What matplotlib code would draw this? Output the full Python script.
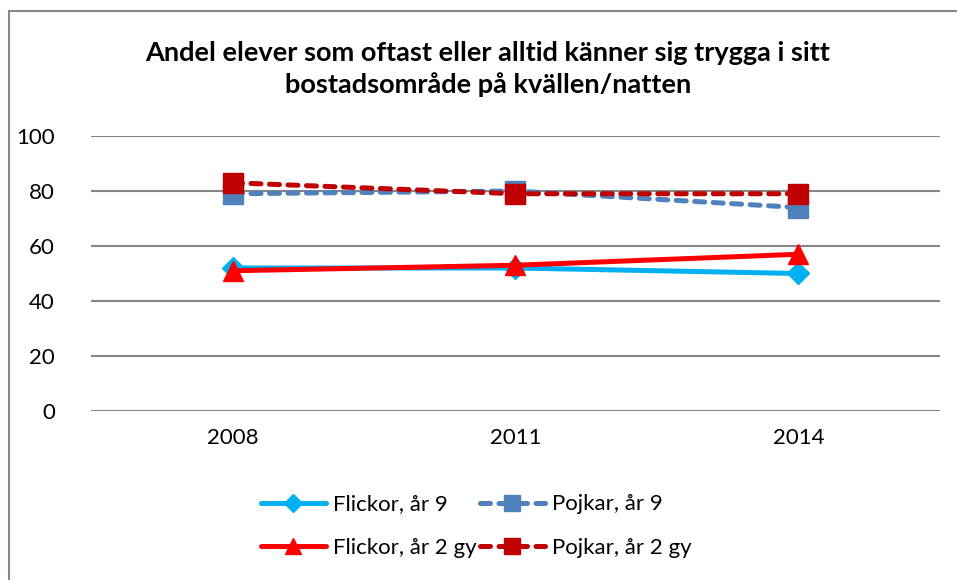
import matplotlib
matplotlib.use("Agg")
import matplotlib.pyplot as plt
from matplotlib.lines import Line2D

years = ["2008", "2011", "2014"]
flickor_9 = [52, 52, 50]
pojkar_9 = [79, 80, 74]
flickor_2gy = [51, 53, 57]
pojkar_2gy = [83, 79, 79]
labels = ["Flickor, år 9", "Pojkar, år 9", "Flickor, år 2 gy", "Pojkar, år 2 gy"]
title = "Andel elever som oftast eller alltid känner sig trygga i sitt\nbostadsområde på kvällen/natten"

plt.rcParams['font.family'] = ['Lato', 'DejaVu Sans']

fig = plt.figure(figsize=(9.57, 5.8), dpi=100)
ax = fig.add_axes([0.0951, 0.2914, 0.9822 - 0.0951, 0.7655 - 0.2914])

x = list(range(len(years)))
dash = (0, (2.0, 1.7))
h1, = ax.plot(x, flickor_9, color="#00B0F0", lw=3.6, marker="D", ms=11,
              solid_capstyle="round", label=labels[0], zorder=3)
h2, = ax.plot(x, pojkar_9, color="#4F81BD", lw=3.6, marker="s", ms=14,
              linestyle=dash, dash_capstyle="round", label=labels[1], zorder=4)
h3, = ax.plot(x, flickor_2gy, color="#FF0000", lw=3.6, marker="^", ms=15,
              solid_capstyle="round", label=labels[2], zorder=5)
h4, = ax.plot(x, pojkar_2gy, color="#C00000", lw=3.6, marker="s", ms=14,
              linestyle=dash, dash_capstyle="round", label=labels[3], zorder=6)

ax.set_xlim(-0.5, 2.5)
ax.set_ylim(0, 100)
ax.set_yticks([0, 20, 40, 60, 80, 100])
ax.set_xticks(x)
ax.set_xticklabels(years)
ax.tick_params(axis="both", length=0, labelsize=16, colors="black")
ax.tick_params(axis="y", pad=26)
ax.tick_params(axis="x", pad=12)
ax.grid(axis="y", color="#868686", lw=1.5)
ax.set_axisbelow(True)
for s in ax.spines.values():
    s.set_visible(False)

fig.text(0.51, 0.881, title, ha="center", va="center", fontsize=19.5,
         fontweight="bold", linespacing=1.3)

leg = fig.legend([h1, h3, h2, h4], [labels[0], labels[2], labels[1], labels[3]],
                 ncol=2, loc="center", bbox_to_anchor=(0.498, 0.093), frameon=False,
                 fontsize=16, handlelength=2.9, columnspacing=0.15, handletextpad=0.35,
                 labelspacing=1.05, markerscale=0.8)

# outer border (top and left visible)
fig.add_artist(Line2D([9/957, 9/957], [0, 1 - 11/580], transform=fig.transFigure,
                      color="#868686", lw=1.5))
fig.add_artist(Line2D([9/957, 1], [1 - 11/580, 1 - 11/580], transform=fig.transFigure,
                      color="#868686", lw=1.5))

fig.savefig("out.png", dpi=100)
